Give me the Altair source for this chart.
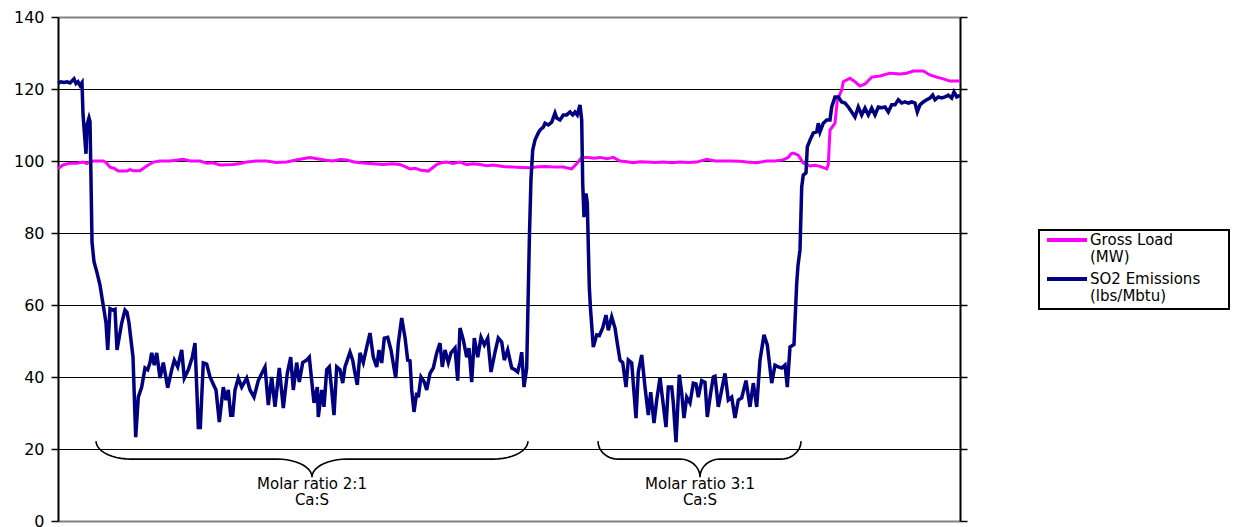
import altair as alt
import pandas as pd
import numpy as np

# ---------------- data (time step index, value) ----------------
gross_t = [0, 5, 12, 18.7, 25, 28.7, 32, 35.3, 45.3, 48, 52, 56, 60.3, 68.7, 72, 75.3, 82, 88.7, 95.3, 102,
           112, 125.3, 132, 142, 148.7, 155, 162, 175.3, 182, 188.7, 198, 208.7, 218, 228.7, 237, 242, 252,
           262, 268, 275.3, 282, 288.7, 295, 302, 312, 325.3, 334, 342, 346, 352, 357, 362, 370.3, 374,
           378.7, 383, 388.7, 395, 402, 408.7, 415, 422, 429, 435.3, 445, 455.3, 464, 472, 480, 488.7, 497,
           505.3, 513.7, 518.7, 523.7, 530.3, 536, 542, 549, 555.3, 562, 569, 575.3, 582, 588.7, 597, 605.3,
           614, 622, 630, 638.7, 648.7, 657, 672, 682, 688.7, 698.7, 708.7, 717, 725.3, 730.3, 733, 735.3,
           740.3, 745.3, 752, 757, 762, 768.7, 770.3, 772, 777, 779.3, 783.7, 785.3, 792, 797, 802, 807,
           813.7, 822, 832, 842, 848.7, 855.3, 865.3, 872, 878.7, 885.3, 892, 902]
gross_v = [97.8, 98.9, 99.4, 99.4, 99.7, 99.3, 99.8, 100, 100, 99.6, 98.3, 98, 97.2, 97.2, 97.6, 97.3, 97.3,
           98.6, 99.7, 100, 100, 100.5, 100, 100, 99.4, 99.5, 98.9, 99, 99.3, 99.7, 100, 100, 99.6, 99.7,
           100.2, 100.5, 101, 100.5, 100.2, 100, 100.4, 100.3, 99.8, 99.5, 99.3, 99, 99.2, 99, 98.6, 97.8,
           98, 97.5, 97.2, 98, 99, 99.5, 99.7, 99.3, 99.7, 99, 99.2, 99, 98.7, 98.9, 98.5, 98.3, 98.2, 98.1,
           98.4, 98.5, 98.3, 98.3, 97.8, 99.2, 101, 101, 100.8, 101, 100.6, 101, 100, 99.8, 99.5, 99.8, 99.7,
           99.6, 99.7, 99.5, 99.7, 99.6, 99.7, 100.5, 100, 100, 99.9, 99.7, 99.5, 100, 100, 100.3, 101, 102,
           102.2, 101.6, 99.4, 98.6, 98.8, 98.5, 97.8, 99, 108.6, 110.5, 116.9, 119.7, 122, 123, 122, 120.8,
           121.4, 123.3, 123.6, 124.4, 124.2, 124.4, 125, 125, 123.9, 123.3, 122.8, 122.2, 122.2]

so2_t = [0, 3, 6, 9, 12, 16, 18, 20, 22, 24, 25, 28, 29, 31, 32, 33, 34, 36, 39, 42, 44, 46, 48, 49.7, 52, 55,
         57, 59, 63.7, 67, 69, 71, 75, 77.7, 80.3, 83.7, 87, 89.7, 92, 93.7, 96.3, 98.7, 102, 105.3, 109.7,
         113.7, 116.3, 119.7, 123.7, 126.3, 130.3, 134.3, 137, 140.3, 142.3, 145.3, 148.7, 152, 155.3, 158,
         161.3, 165.3, 168, 170.3, 172.7, 174.7, 177, 180.3, 183.7, 188.7, 192, 196, 200.3, 203.7, 207,
         210.3, 213.7, 217, 221.3, 225.3, 229.3, 232.7, 235.3, 238.7, 241.3, 244.7, 248.7, 251.3, 256,
         259.3, 260.3, 263.7, 266, 268.7, 271.3, 273.7, 276, 278.7, 282, 284.7, 287, 289.3, 292, 294.7,
         297, 299.3, 302, 305.3, 308.7, 312, 315.3, 318.7, 321, 323.7, 326.3, 329.7, 333, 337.7, 340.3,
         343.7, 347, 349.7, 352, 353.7, 356, 358.7, 360.3, 363, 366.3, 368.7, 372, 375.3, 378.7, 382,
         384.3, 387, 390.3, 393, 397, 399.7, 402, 405.3, 408.7, 411, 413.7, 416.3, 419.7, 423, 426.3,
         429.7, 433, 437, 440.3, 443.7, 446.3, 449.7, 453.7, 457, 459.7, 462, 463.7, 466, 468.7, 470.3,
         471.5, 473, 474.7, 477, 480.3, 482, 485.3, 487, 490.3, 493.7, 497, 498.7, 502, 505.3, 508.7, 512,
         514.7, 517, 519.3, 522, 523.7, 524.7, 526, 528, 529.3, 531.3, 532.5, 535.3, 538.7, 541.3, 544.7,
         548, 550.3, 553.7, 557, 559.3, 562, 564.7, 568, 570.3, 573.7, 578, 580.3, 583.7, 587, 590.3,
         592.7, 596, 598.7, 602, 604.7, 608, 610.3, 613.7, 615.3, 618, 621.3, 623.7, 626, 628.7, 632,
         635.3, 638, 640.3, 643.7, 647, 649.3, 652.7, 655.3, 657, 660.3, 663.7, 667, 670.3, 673.7, 677,
         680.3, 683.7, 688, 692, 695.3, 698.7, 702, 706, 709.3, 713.7, 717, 720.3, 723.7, 727, 729.3, 732,
         736, 738.7, 740, 742, 743.7, 745.3, 748, 749.3, 752, 755.3, 758.7, 760.3, 762, 765.3, 768.7, 772,
         773.7, 777, 780.3, 783.7, 787, 790.3, 793.7, 797, 800.3, 803.7, 807, 810.3, 813.7, 817, 820.3,
         823.7, 827, 830.3, 833.7, 837, 840.3, 843.7, 847, 850.3, 853.7, 857, 859.3, 862, 865.3, 868.7,
         872, 874.7, 877, 880.3, 883.7, 887, 890.3, 893.7, 896, 898.7, 900.3, 902]
so2_v = [121.5, 122, 121.8, 122, 121.7, 122.8, 121.5, 122, 121, 121.8, 113, 102, 110, 112, 111, 95, 77.5, 72,
         69, 65.5, 62, 58.6, 55, 47.5, 59, 58.6, 58.8, 47.5, 55, 58.6, 58, 55, 45.5, 23.3, 34.4, 37.2, 42.5,
         42, 44, 46.7, 43.3, 46.7, 39.7, 44, 37, 42, 44.7, 42.8, 47.5, 39.7, 42, 45.5, 49.4, 26, 26, 43.9,
         43.6, 40, 38, 36.4, 27.5, 37.2, 33.6, 36.4, 29.4, 29.4, 36.4, 39.7, 37.2, 39.7, 36.4, 34.4, 39, 41,
         42.8, 32.2, 40, 31.7, 42.5, 31.4, 41, 45.5, 36.4, 44, 38.6, 44, 44.7, 45.5, 32.8, 37.2, 28.9, 36.4,
         31.7, 42, 42.8, 36.4, 29.4, 42.8, 42, 38.3, 42.8, 44.7, 46.9, 44.7, 41, 37.8, 46.7, 44, 48.3, 52.2,
         45.5, 42.8, 47.5, 43.9, 50.8, 51, 47.5, 39.7, 49.4, 56.4, 51, 44.7, 44.5, 36.4, 30.3, 35.6, 34.4,
         40, 38.6, 36.4, 41, 42.5, 46.7, 49.4, 42.8, 47.5, 44, 46.7, 48, 39, 53.6, 50.3, 45.5, 48, 38.6,
         50.8, 45.5, 51, 48.9, 50.8, 41.4, 46.9, 50.8, 49.7, 44.7, 47.5, 42.5, 42, 41.4, 44, 46.9, 37.2,
         42.5, 64, 80, 95, 103, 105.8, 107.8, 108.6, 109.4, 110.5, 110, 110.8, 113.3, 111.9, 111.4, 112.8,
         112.8, 113.6, 112.8, 113.6, 112.8, 115.6, 111.4, 93.9, 84.4, 91, 88.3, 65, 59, 48.3, 51.7, 51.5,
         53.6, 57.2, 53, 56.7, 53.6, 49.4, 44.7, 44, 37.2, 44.7, 43.9, 28.6, 41.4, 46.1, 37.2, 29.4, 35.8,
         27.2, 33.6, 39.7, 33.6, 26.1, 37.2, 37.2, 32.8, 21.9, 40.6, 35.6, 28.6, 34.4, 32.8, 38.3, 38.1,
         34.4, 39, 38.5, 28.9, 35.6, 40, 40.2, 31.7, 36.4, 41, 33.6, 34.4, 28.6, 33.6, 34.2, 39, 31.7, 38.3,
         31.7, 44.7, 51.7, 48.9, 38.3, 43.3, 42.8, 42.5, 43.3, 37.2, 48.3, 49, 66, 71, 75.3, 92.8, 96.1,
         96.7, 103.9, 105.8, 107.8, 108.1, 110.5, 108.1, 110.5, 111.4, 111.4, 115, 117.8, 117.8, 116.4,
         116.1, 115, 113.6, 112.2, 115, 112.8, 114.7, 112.8, 114.7, 112.8, 115, 114.8, 115, 113.6, 115.6,
         115.6, 117, 116.1, 116.4, 116.1, 116.4, 116.1, 113.6, 115.6, 116.4, 117, 117.5, 118.3, 117, 117.8,
         117.5, 117.8, 118.3, 117.5, 119.2, 117.8, 118, 118.3]

series_names = ["Gross Load (MW)", "SO2 Emissions (lbs/Mbtu)"]
legend_lines = [["Gross Load", "(MW)"], ["SO2 Emissions", "(lbs/Mbtu)"]]
series_colors = ["#FF00FF", "#000080"]
y_ticks = [0, 20, 40, 60, 80, 100, 120, 140]

brace_labels = ["Molar ratio 2:1\nCa:S", "Molar ratio 3:1\nCa:S"]
brace_left = [38, 540]
brace_right = [470, 743]
brace_center = [254, 642]
brace_radius = [35, 20]
brace_top, brace_bar, brace_tip = 22.2, 17.2, 12.2
label_level = 12.3

FONT = "DejaVu Sans"

# ---------------- build tables ----------------
gross_df = pd.DataFrame({"t": gross_t, "v": gross_v, "series": series_names[0]})
so2_df = pd.DataFrame({"t": so2_t, "v": so2_v, "series": series_names[1]})

rows = []
th = np.linspace(0, np.pi / 2, 12)
for b in range(len(brace_left)):
    L, R, C, r = brace_left[b], brace_right[b], brace_center[b], brace_radius[b]
    h1 = brace_top - brace_bar
    h2 = brace_bar - brace_tip
    xs = list(L + r - r * np.cos(th)) + list(C - r + r * np.sin(th)) + \
        list(C + r - r * np.cos(th)) + list(R - r + r * np.sin(th))
    ys = list(brace_top - h1 * np.sin(th)) + list(brace_bar - h2 * (1 - np.cos(th))) + \
        list(brace_tip + h2 * np.sin(th)) + list(brace_top - h1 * np.cos(th))
    for i, (x, y) in enumerate(zip(xs, ys)):
        rows.append({"t": float(x), "v": float(y), "brace": b, "i": i})
brace_df = pd.DataFrame(rows)

lab_df = pd.DataFrame({"t": brace_center, "v": [label_level] * len(brace_center), "label": brace_labels})

xscale = alt.Scale(domain=[0, 902], nice=False, zero=False)
yscale = alt.Scale(domain=[0, 140], nice=False, zero=False)

grid_color = alt.condition("datum.value === 0 || datum.value === 140", alt.value("#808080"), alt.value("#000000"))
grid_width = alt.condition("datum.value === 0 || datum.value === 140", alt.value(2), alt.value(1))

left_axis = alt.Axis(values=y_ticks, title=None, orient="left", grid=True, gridColor=grid_color,
                     gridWidth=grid_width, domainColor="black", domainWidth=2, tickColor="black",
                     tickSize=7, tickWidth=1.5, labelFont=FONT, labelFontSize=16, labelColor="black",
                     labelPadding=7)
right_axis = alt.Axis(values=y_ticks, title=None, orient="right", grid=False, labels=False,
                      domainColor="black", domainWidth=2, tickColor="black", tickSize=7, tickWidth=1.5)

gross_line = alt.Chart(gross_df).mark_line(color=series_colors[0], strokeWidth=3).encode(
    x=alt.X("t:Q", scale=xscale, axis=None),
    y=alt.Y("v:Q", scale=yscale, axis=right_axis),
)
so2_line = alt.Chart(so2_df).mark_line(color=series_colors[1], strokeWidth=3.5).encode(
    x=alt.X("t:Q", scale=xscale, axis=None),
    y=alt.Y("v:Q", scale=yscale, axis=left_axis),
)
braces = alt.Chart(brace_df).mark_line(color="black", strokeWidth=1.6).encode(
    x=alt.X("t:Q", scale=xscale, axis=None),
    y=alt.Y("v:Q", scale=yscale, axis=None),
    detail="brace:N",
    order="i:Q",
)
labels = alt.Chart(lab_df).mark_text(font=FONT, fontSize=15, color="black", baseline="top",
                                     align="center", lineBreak="\n", lineHeight=16).encode(
    x=alt.X("t:Q", scale=xscale, axis=None),
    y=alt.Y("v:Q", scale=yscale, axis=None),
    text="label:N",
)

# legend box (positioned to the right of the plot area)
box = alt.Chart(pd.DataFrame({"k": [0]})).mark_rect(fill="white", stroke="black", strokeWidth=2).encode(
    x=alt.value(981), x2=alt.value(1171), y=alt.value(213), y2=alt.value(292))
leg_layers = [box]
sym_y = [223, 262]
for s in range(2):
    leg_layers.append(
        alt.Chart(pd.DataFrame({"name": [series_names[s]]})).mark_rule(
            color=series_colors[s], strokeWidth=4).encode(
            x=alt.value(989), x2=alt.value(1029), y=alt.value(sym_y[s]))
    )
    for k in range(2):
        leg_layers.append(
            alt.Chart(pd.DataFrame({"label": [legend_lines[s][k]]})).mark_text(
                font=FONT, fontSize=15, color="black", align="left", baseline="middle").encode(
                x=alt.value(1032), y=alt.value(sym_y[s] + k * 17), text="label:N")
        )

chart = alt.layer(gross_line, so2_line, braces, labels, *leg_layers).resolve_scale(
    y="shared", x="shared").resolve_axis(y="independent").properties(
    width=902, height=504,
    autosize=alt.AutoSizeParams(type="none"),
    padding={"left": 50, "top": 9, "right": 271, "bottom": 6},
    background="white",
).configure_view(strokeWidth=0)

chart.save("out.html", embed_options={"renderer": "svg", "actions": False})
